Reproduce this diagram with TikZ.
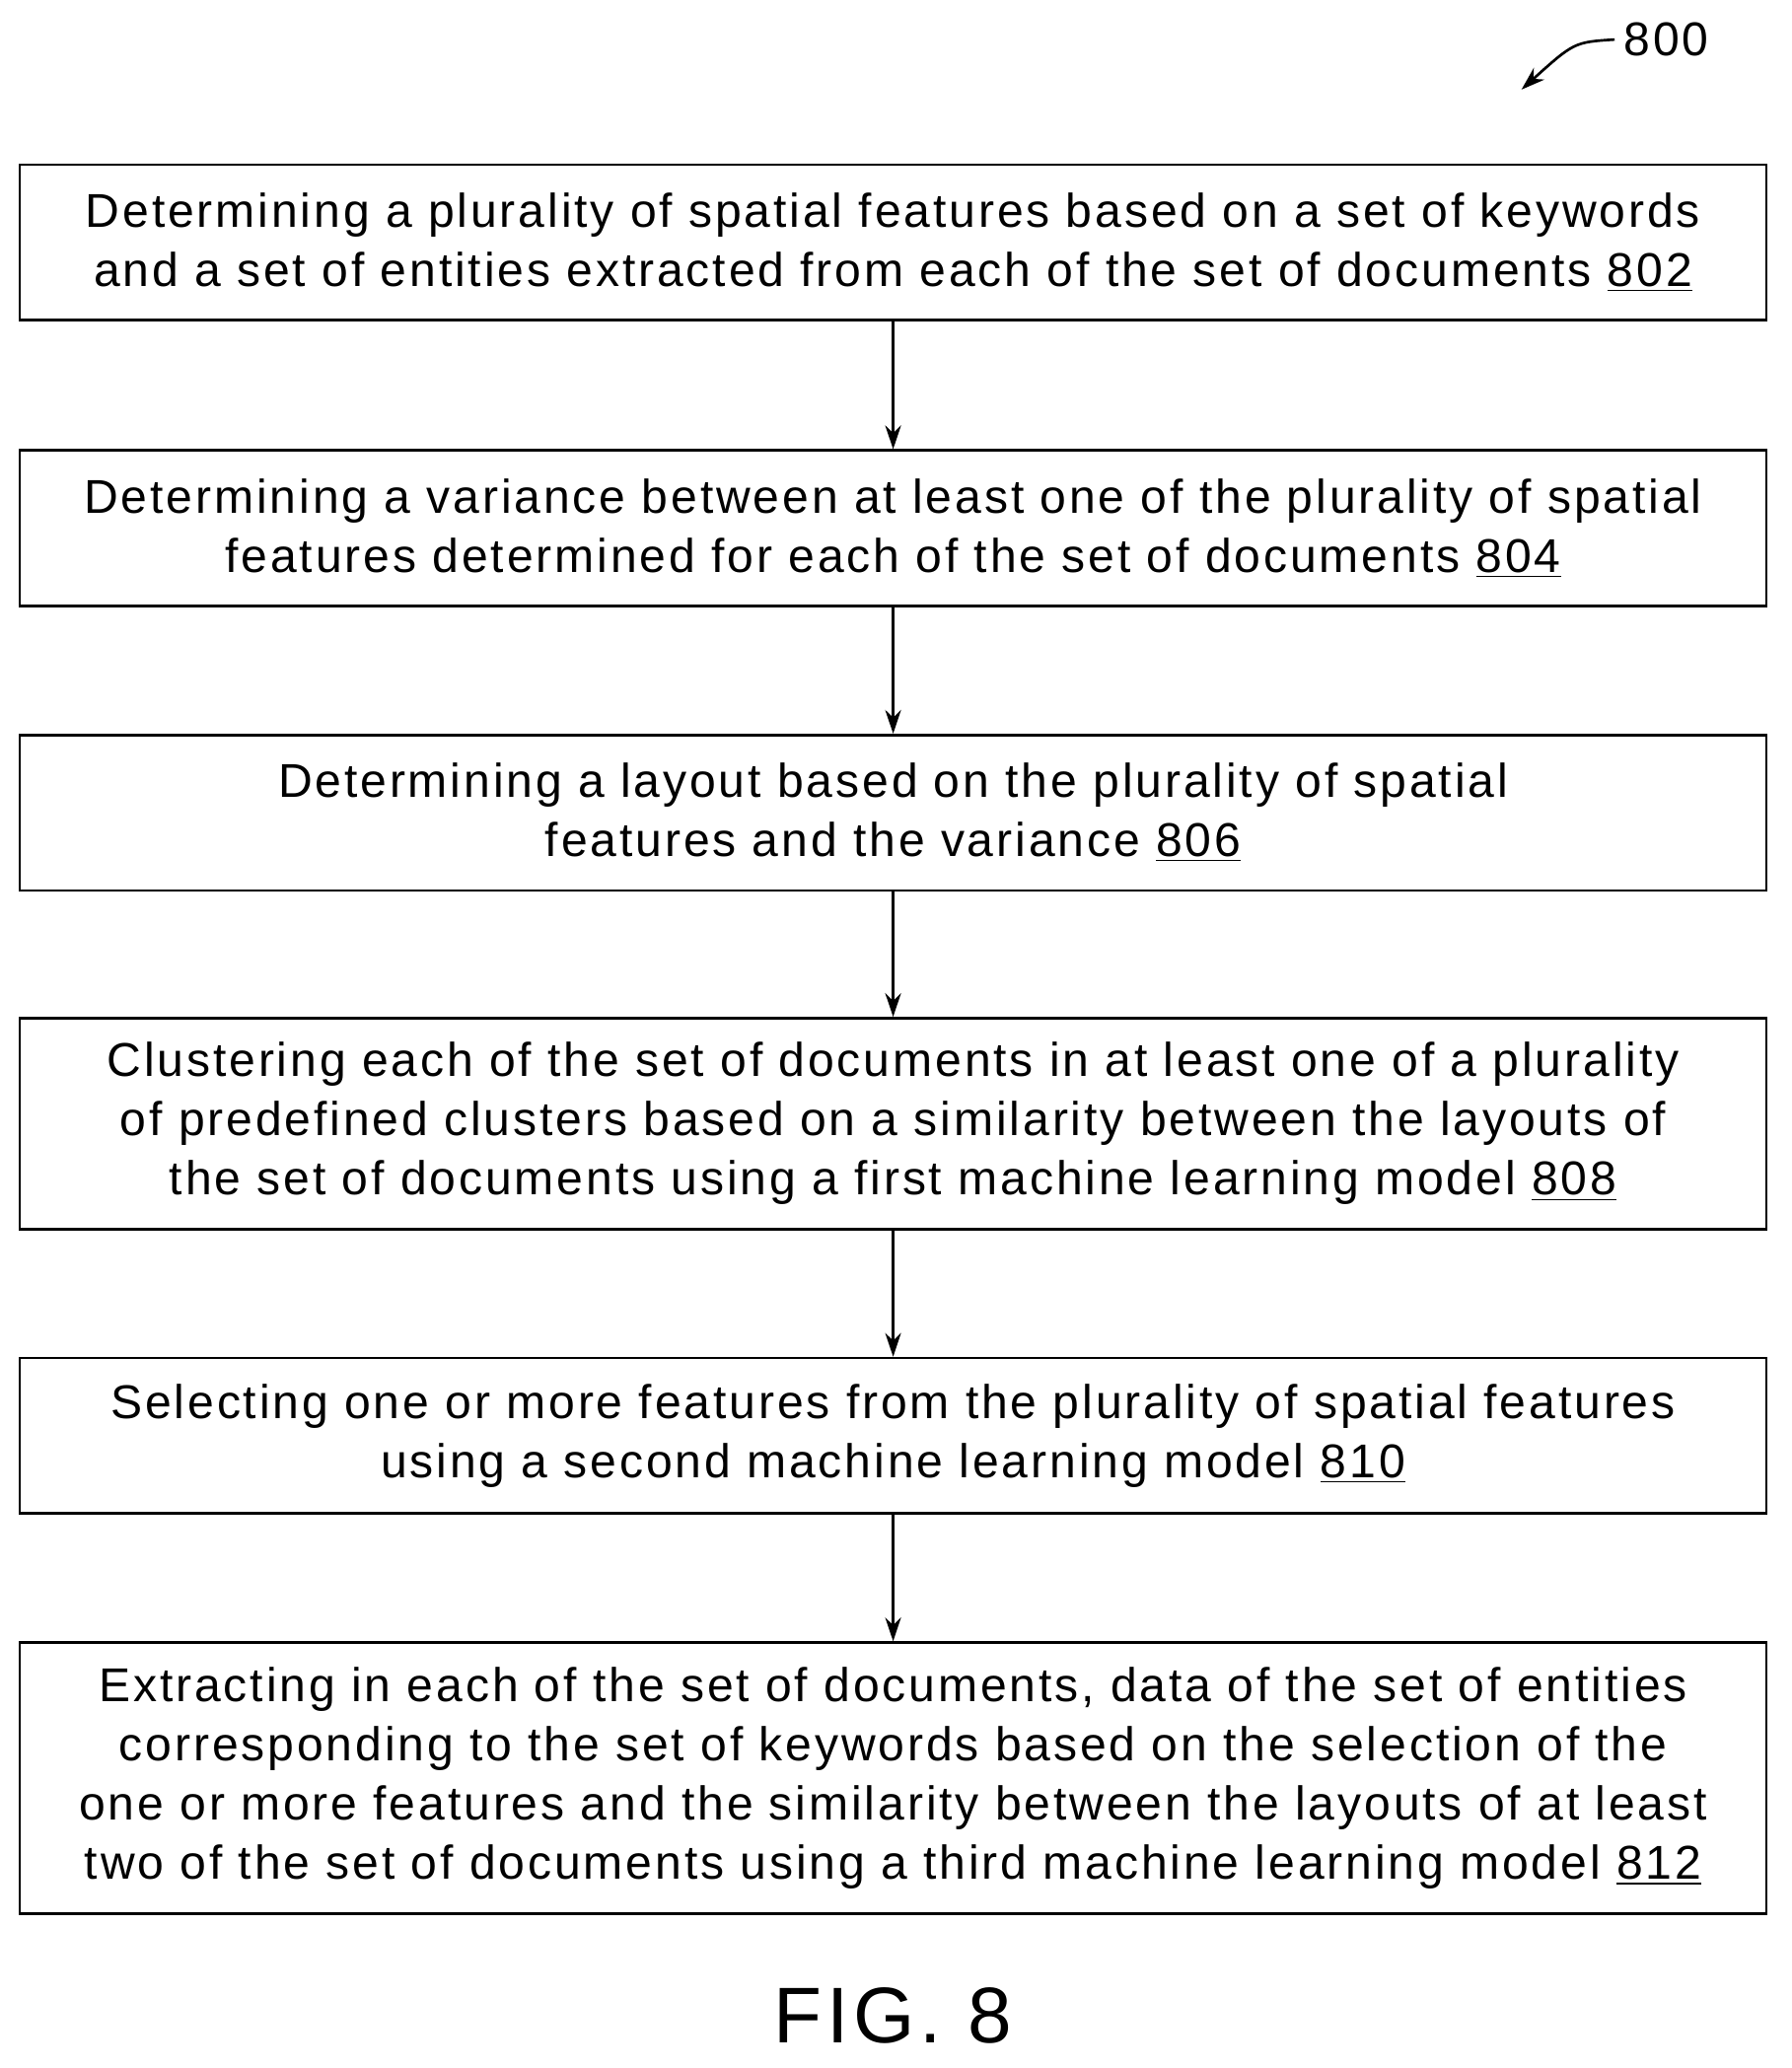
\documentclass[tikz,border=0pt]{standalone}
\usepackage{fontspec}
\setmainfont{Liberation Sans}[LetterSpace=6]
\usetikzlibrary{arrows.meta}
\begin{document}
\begin{tikzpicture}[x=0.5pt,y=-0.5pt,
  stepbox/.style={draw,line width=1pt,minimum width=663pt,align=center,font=\fontsize{18}{22.5}\selectfont,inner sep=0pt},
  conn/.style={-{Stealth[length=9pt,width=6pt]},line width=1pt}]
\useasboundingbox (0,0) rectangle (1360,1570);
\node[stepbox,minimum height=59pt] (a) at (678,184) {Determining a plurality of spatial features based on a set of keywords\\and a set of entities extracted from each of the set of documents \underline{802}};
\node[stepbox,minimum height=59pt] (b) at (678,401) {Determining a variance between at least one of the plurality of spatial\\features determined for each of the set of documents \underline{804}};
\node[stepbox,minimum height=59pt] (c) at (678,617) {Determining a layout based on the plurality of spatial\\features and the variance \underline{806}};
\node[stepbox,minimum height=80pt] (d) at (678,853) {Clustering each of the set of documents in at least one of a plurality\\of predefined clusters based on a similarity between the layouts of\\the set of documents using a first machine learning model \underline{808}};
\node[stepbox,minimum height=59pt] (e) at (678,1090) {Selecting one or more features from the plurality of spatial features\\using a second machine learning model \underline{810}};
\node[stepbox,minimum height=103pt] (f) at (678,1350) {Extracting in each of the set of documents, data of the set of entities\\corresponding to the set of keywords based on the selection of the\\one or more features and the similarity between the layouts of at least\\two of the set of documents using a third machine learning model \underline{812}};
\draw[conn] (a) -- (b);
\draw[conn] (b) -- (c);
\draw[conn] (c) -- (d);
\draw[conn] (d) -- (e);
\draw[conn] (e) -- (f);
\node[font=\fontsize{18}{20}\selectfont] (n) at (1265,30) {800};
\coordinate (t) at (1155,68);
\draw[conn] (n.west) .. controls (1195,32) .. (t);
\node[font=\fontsize{30}{34}\selectfont] (fig) at (678,1530) {FIG. 8};
\end{tikzpicture}
\end{document}
